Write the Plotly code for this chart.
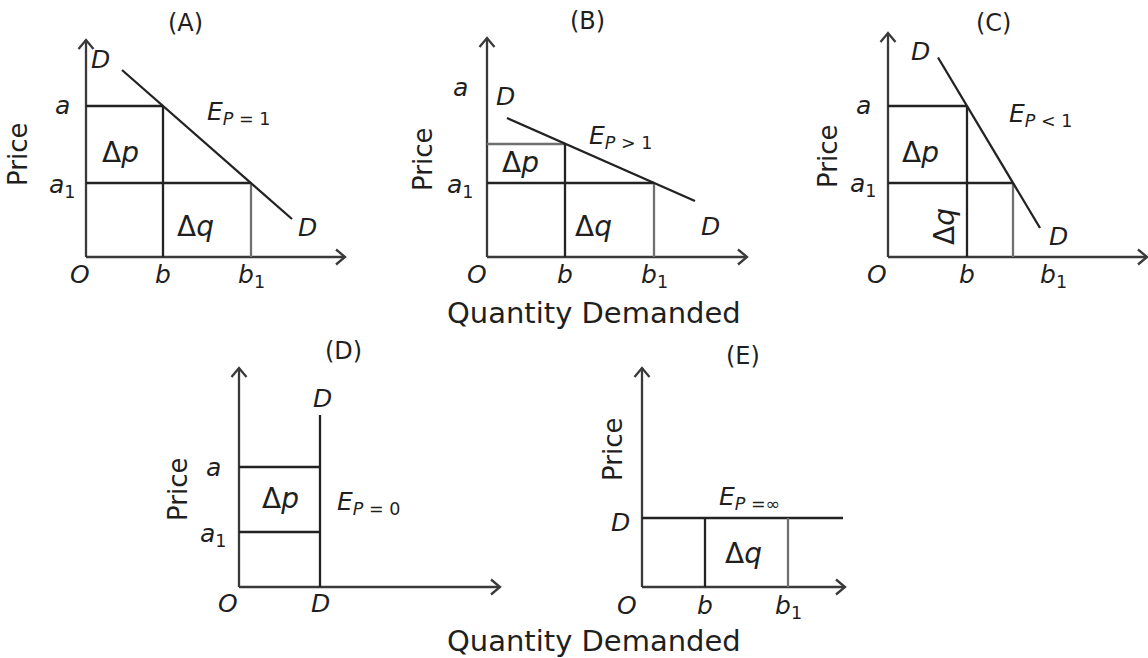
import plotly.graph_objects as go

W, H = 1148, 658
PX = 10.0  # pixels per diagram unit (same on both axes)

# ---- diagram data (price / quantity levels in diagram units) ----
panels = ["A", "B", "C", "D", "E"]
# origin pixel positions of each panel
origin_x = [86, 487, 888, 239, 642]
origin_y = [257, 257, 257, 587, 587]
# axis extents
axis_top = [21.7, 21.9, 22.4, 21.9, 21.9]
axis_right = [25.9, 26.0, 25.9, 26.1, 20.3]

# Panel A: unit elasticity
A_a, A_a1, A_b, A_b1 = 15.1, 7.4, 7.7, 16.5
A_dx = [3.6, 20.6]
A_dy = [18.7, 3.8]
# Panel B: elastic
B_top, B_a1, B_b, B_b1 = 11.3, 7.4, 7.8, 16.7
B_dx = [2.0, 20.8]
B_dy = [13.9, 5.6]
# Panel C: inelastic
C_a, C_a1, C_b, C_b2 = 15.1, 7.4, 7.9, 12.5
C_dx = [5.0, 15.2]
C_dy = [19.95, 2.9]
# Panel D: perfectly inelastic
D_x, D_top, D_a, D_a1 = 8.1, 17.2, 12.0, 5.5
# Panel E: perfectly elastic
E_y, E_end, E_b, E_b1 = 6.9, 20.1, 6.3, 14.6

DARK = "#222222"
GRAY = "#707070"
AXIS = "#3a3a3a"
FONT = "DejaVu Sans, Arial, sans-serif"
TXT = "#1f1f1f"

fig = go.Figure()

def seg(i, xs, ys, color=DARK, width=2.3):
    ax = "" if i == 0 else str(i + 1)
    fig.add_trace(go.Scatter(x=xs, y=ys, mode="lines", xaxis="x" + ax, yaxis="y" + ax,
                             line=dict(color=color, width=width), hoverinfo="skip",
                             showlegend=False, cliponaxis=False))

def label(i, x, y, text, size=25, angle=0, xanchor="center"):
    ax = "" if i == 0 else str(i + 1)
    fig.add_annotation(x=x, y=y, xref="x" + ax, yref="y" + ax, text=text, showarrow=False,
                       font=dict(family=FONT, size=size, color=TXT),
                       textangle=angle, xanchor=xanchor, yanchor="middle")

layout = {}
for i, p in enumerate(panels):
    ox, oy = origin_x[i], origin_y[i]
    xmin = -min(9.0, ox / PX)
    xmax = min(27.0, (W - ox) / PX)
    ymin = -min(8.0, (H - oy) / PX)
    ymax = min(24.5, oy / PX)
    xd = [(ox + xmin * PX) / W, (ox + xmax * PX) / W]
    yd = [1 - (oy - ymin * PX) / H, 1 - (oy - ymax * PX) / H]
    ax = "" if i == 0 else str(i + 1)
    layout["xaxis" + ax] = dict(domain=xd, range=[xmin, xmax], visible=False, fixedrange=True,
                                anchor="y" + ax)
    layout["yaxis" + ax] = dict(domain=yd, range=[ymin, ymax], visible=False, fixedrange=True,
                                anchor="x" + ax)
    # axes with open arrowheads
    t, r = axis_top[i], axis_right[i]
    seg(i, [0, 0], [0, t], AXIS)
    seg(i, [0, r], [0, 0], AXIS)
    seg(i, [-0.75, 0, 0.75], [t - 0.9, t, t - 0.9], AXIS)
    seg(i, [r - 0.9, r, r - 0.9], [0.75, 0, -0.75], AXIS)

it = "<i>{}</i>"
DL = 28   # size of the delta labels
PS = 26   # "Price"
TS = 24   # panel titles

# ---- Panel A ----
seg(0, [0, A_b], [A_a, A_a])
seg(0, [0, A_b1], [A_a1, A_a1])
seg(0, [A_b, A_b], [0, A_a])
seg(0, [A_b1, A_b1], [0, A_a1], GRAY)
seg(0, A_dx, A_dy)
label(0, 9.9, 23.4, "(A)", TS)
label(0, 1.4, 19.7, it.format("D"))
label(0, 22.1, 2.9, it.format("D"))
label(0, -2.4, 15.1, it.format("a"))
label(0, -2.4, 7.1, "<i>a</i><sub>1</sub>")
label(0, -0.6, -1.8, it.format("O"))
label(0, A_b, -1.8, it.format("b"))
label(0, A_b1, -1.9, "<i>b</i><sub>1</sub>")
label(0, 3.4, 10.4, "Δ<i>p</i>", DL)
label(0, 10.9, 3.0, "Δ<i>q</i>", DL)
label(0, 11.9, 14.4, "<i>E</i><sub><i>P</i> = 1</sub>", xanchor="left")
label(0, -6.8, 10.2, "Price", PS, -90)

# ---- Panel B ----
seg(1, [0, B_b], [B_top, B_top], GRAY)
seg(1, [0, B_b1], [B_a1, B_a1])
seg(1, [B_b, B_b], [0, B_top])
seg(1, [B_b1, B_b1], [0, B_a1], GRAY)
seg(1, B_dx, B_dy)
label(1, 10.0, 23.6, "(B)", TS)
label(1, 1.8, 16.0, it.format("D"))
label(1, 22.3, 3.0, it.format("D"))
label(1, -2.7, 16.9, it.format("a"))
label(1, -2.7, 7.1, "<i>a</i><sub>1</sub>")
label(1, -1.0, -1.8, it.format("O"))
label(1, B_b, -1.8, it.format("b"))
label(1, B_b1, -1.9, "<i>b</i><sub>1</sub>")
label(1, 3.3, 9.4, "Δ<i>p</i>", DL)
label(1, 10.6, 3.0, "Δ<i>q</i>", DL)
label(1, 10.0, 12.0, "<i>E</i><sub><i>P</i> > 1</sub>", xanchor="left")
label(1, -6.4, 9.7, "Price", PS, -90)

# ---- Panel C ----
seg(2, [0, C_b], [C_a, C_a])
seg(2, [0, C_b2], [C_a1, C_a1])
seg(2, [C_b, C_b], [0, C_a])
seg(2, [C_b2, C_b2], [0, C_a1], GRAY)
seg(2, C_dx, C_dy)
label(2, 10.5, 23.4, "(C)", TS)
label(2, 3.2, 20.5, it.format("D"))
label(2, 17.0, 2.0, it.format("D"))
label(2, -2.5, 15.1, it.format("a"))
label(2, -2.5, 7.2, "<i>a</i><sub>1</sub>")
label(2, -1.1, -1.8, it.format("O"))
label(2, C_b, -1.8, it.format("b"))
label(2, 16.5, -1.9, "<i>b</i><sub>1</sub>")
label(2, 3.2, 10.4, "Δ<i>p</i>", DL)
label(2, 5.7, 3.0, "Δ<i>q</i>", DL, -90)
label(2, 11.9, 14.2, "<i>E</i><sub><i>P</i> < 1</sub>", xanchor="left")
label(2, -6.0, 10.0, "Price", PS, -90)

# ---- Panel D ----
seg(3, [D_x, D_x], [0, D_top])
seg(3, [0, D_x], [D_a, D_a])
seg(3, [0, D_x], [D_a1, D_a1])
label(3, 10.4, 23.6, "(D)", TS)
label(3, 8.3, 18.9, it.format("D"))
label(3, D_x, -1.6, it.format("D"))
label(3, -2.6, D_a, it.format("a"))
label(3, -2.6, 5.2, "<i>a</i><sub>1</sub>")
label(3, -1.1, -1.6, it.format("O"))
label(3, 4.1, 8.9, "Δ<i>p</i>", DL)
label(3, 9.6, 8.4, "<i>E</i><sub><i>P</i> = 0</sub>", xanchor="left")
label(3, -6.1, 9.7, "Price", PS, -90)

# ---- Panel E ----
seg(4, [0, E_end], [E_y, E_y])
seg(4, [E_b, E_b], [0, E_y])
seg(4, [E_b1, E_b1], [0, E_y], GRAY)
label(4, 10.1, 23.1, "(E)", TS)
label(4, -2.2, 6.5, it.format("D"))
label(4, -1.5, -1.8, it.format("O"))
label(4, E_b, -1.8, it.format("b"))
label(4, E_b1, -2.0, "<i>b</i><sub>1</sub>")
label(4, 10.1, 3.4, "Δ<i>q</i>", DL)
label(4, 7.5, 8.9, "<i>E</i><sub><i>P</i> =∞</sub>", xanchor="left")
label(4, -2.9, 13.7, "Price", PS, -90)

# Shared x-axis titles
for (px, py) in [(594, 313), (594, 641)]:
    fig.add_annotation(x=px / W, y=1 - py / H, xref="paper", yref="paper",
                       text="Quantity Demanded", showarrow=False,
                       font=dict(family=FONT, size=29, color=TXT),
                       xanchor="center", yanchor="middle")

fig.update_layout(width=W, height=H, margin=dict(l=0, r=0, t=0, b=0),
                  paper_bgcolor="white", plot_bgcolor="white", showlegend=False,
                  **layout)

fig.write_html("out.html", config={"displayModeBar": False, "staticPlot": True},
               post_script="document.body.style.margin='0';document.body.style.overflow='hidden';")
